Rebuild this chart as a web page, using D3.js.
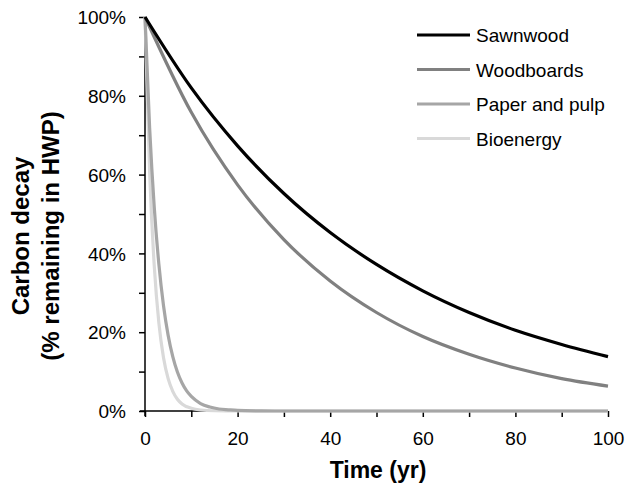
<!DOCTYPE html>
<html><head><meta charset="utf-8">
<script src="https://cdn.jsdelivr.net/npm/d3@7"></script>
<style>body{margin:0;background:#fff}svg{display:block}text{font-family:"Liberation Sans",Arial,sans-serif}</style>
</head><body>
<svg id="c" width="626" height="488"></svg>
<script>
// Data (fraction of carbon remaining)
const seriesNames = ["Sawnwood", "Woodboards", "Paper and pulp", "Bioenergy"];
const seriesColors = ["#000000", "#808080", "#a6a6a6", "#d9d9d9"];
const sawnwoodYears = [0,10,20,30,40,50,60,70,80,90,100];
const sawnwood = [1.000,0.820,0.673,0.552,0.453,0.372,0.305,0.250,0.205,0.169,0.138];
const woodboardsYears = [0,10,20,30,40,50,60,70,80,90,100];
const woodboards = [1.000,0.758,0.574,0.435,0.330,0.250,0.189,0.144,0.109,0.082,0.063];
const paperYears = [0,1,2,3,4,5,6,7,8,9,10,12,14,16,18,20,25,30,40,60,80,100];
const paper = [1.000,0.719,0.517,0.372,0.267,0.192,0.138,0.099,0.071,0.051,0.037,0.019,0.010,0.005,0.003,0.0014,0.0003,0,0,0,0,0];
const bioYears = [0,1,2,3,4,5,6,7,8,10,12,15,20,30,40,60,80,100];
const bio = [1.000,0.607,0.368,0.223,0.135,0.082,0.050,0.030,0.018,0.007,0.0025,0.0006,0,0,0,0,0,0];
const xTicks = [0,20,40,60,80,100];
const xMinor = [10,30,50,70,90];
const yTicks = [0,0.2,0.4,0.6,0.8,1.0];
const yMinor = [0.1,0.3,0.5,0.7,0.9];

const series = [
  {name: seriesNames[0], color: seriesColors[0], pts: sawnwoodYears.map((t,i)=>[t,sawnwood[i]])},
  {name: seriesNames[1], color: seriesColors[1], pts: woodboardsYears.map((t,i)=>[t,woodboards[i]])},
  {name: seriesNames[2], color: seriesColors[2], pts: paperYears.map((t,i)=>[t,paper[i]])},
  {name: seriesNames[3], color: seriesColors[3], pts: bioYears.map((t,i)=>[t,bio[i]])}
];

const svg = d3.select("#c");
const x = d3.scaleLinear().domain([0,100]).range([145,608]);
const y = d3.scaleLinear().domain([0,1]).range([411,17]);

// y axis
const yAx = svg.append("g").attr("transform","translate(145,0)")
  .call(d3.axisLeft(y).tickValues(yTicks).tickSize(6).tickSizeOuter(0).tickFormat(d3.format(".0%")));
yAx.append("g").call(d3.axisLeft(y).tickValues(yMinor).tickSize(6).tickFormat(""));
yAx.selectAll("path.domain").remove();
yAx.append("line").attr("y1",y(1)).attr("y2",y(0)+5).attr("stroke","#000").attr("stroke-width",1.5);
yAx.selectAll("line").attr("stroke","#000").attr("stroke-width",1.5);
yAx.selectAll("text").attr("font-size",19).attr("fill","#000").attr("x",-19).attr("dy","0.35em");

// x axis
const xAx = svg.append("g").attr("transform","translate(0,411)")
  .call(d3.axisBottom(x).tickValues(xTicks).tickSize(6).tickSizeOuter(0).tickFormat(d3.format("d")));
xAx.append("g").call(d3.axisBottom(x).tickValues(xMinor).tickSize(6).tickFormat(""));
xAx.selectAll("path.domain").remove();
xAx.append("line").attr("x1",x(0)-5).attr("x2",x(100)).attr("stroke","#000").attr("stroke-width",1.5);
xAx.selectAll("line").attr("stroke","#000").attr("stroke-width",1.5);
xAx.selectAll("text").attr("font-size",19).attr("fill","#000").attr("y",21).attr("dy","0.71em");

// lines
const line = d3.line().x(d=>x(d[0])).y(d=>y(d[1])).curve(d3.curveMonotoneX);
svg.append("g").selectAll("path").data(series.slice().reverse()).join("path")
  .attr("d",d=>line(d.pts)).attr("fill","none").attr("stroke",d=>d.color).attr("stroke-width",3.2)
  .attr("stroke-linejoin","round");

// axis titles
svg.append("text").attr("x",378).attr("y",478).attr("text-anchor","middle")
  .attr("font-size",23).attr("font-weight","bold").text("Time (yr)");
const yt = svg.append("text").attr("transform","translate(0,236) rotate(-90)")
  .attr("text-anchor","middle").attr("font-size",24).attr("font-weight","bold");
yt.append("tspan").attr("x",0).attr("y",29).text("Carbon decay");
yt.append("tspan").attr("x",0).attr("y",59).text("(% remaining in HWP)");

// legend
const leg = svg.append("g").selectAll("g").data(series).join("g")
  .attr("transform",(d,i)=>`translate(417,${35+i*34.5})`);
leg.append("line").attr("x1",0).attr("x2",53).attr("stroke",d=>d.color).attr("stroke-width",3.2);
leg.append("text").attr("x",59).attr("y",7).attr("font-size",19).text(d=>d.name);
</script>
</body></html>
